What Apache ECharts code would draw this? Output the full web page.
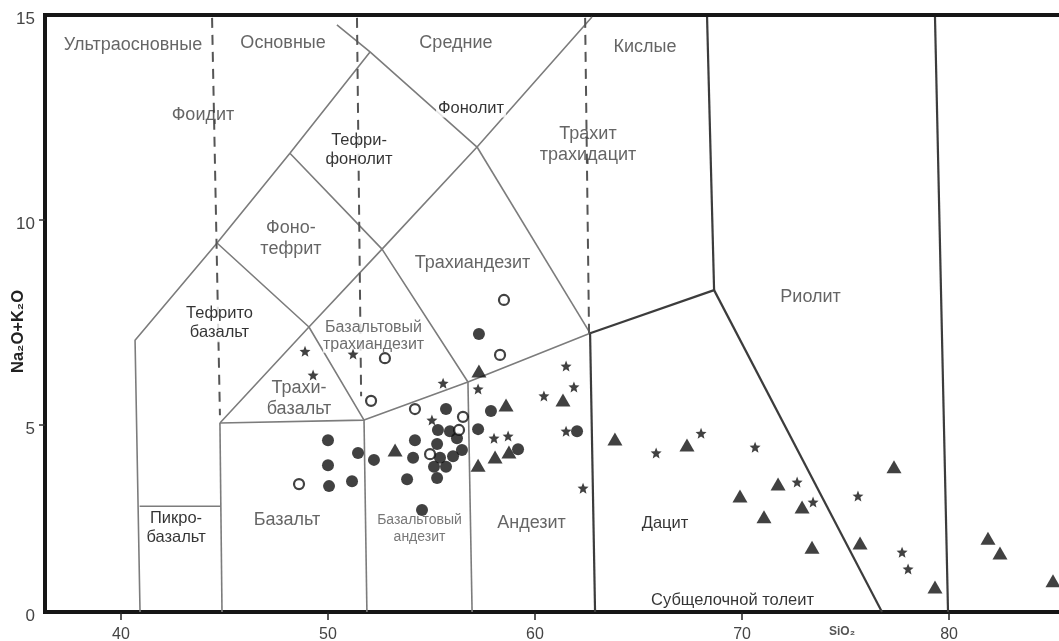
<!DOCTYPE html>
<html>
<head>
<meta charset="utf-8">
<script src="https://cdn.jsdelivr.net/npm/echarts@6/dist/echarts.min.js"></script>
<style>html,body{margin:0;padding:0;background:#fff}#c{width:1059px;height:641px}</style>
</head>
<body>
<div id="c"></div>
<script>
// ---------- data (SiO2, Na2O+K2O) ----------
const filledCircles = [
  [50.00,4.63],[50.00,4.02],[50.05,3.51],[51.16,3.63],[51.45,4.32],[52.22,4.15],
  [54.20,4.63],[54.11,4.20],[53.82,3.68],[54.54,2.93],[55.70,5.39],[55.31,4.88],
  [55.89,4.85],[56.23,4.68],[55.27,4.54],[56.47,4.39],[56.04,4.24],[55.41,4.20],
  [55.12,3.98],[55.70,3.98],[55.27,3.71],[57.29,7.22],[57.87,5.34],[57.25,4.90],
  [59.18,4.41],[62.03,4.85]
];
const openCircles = [
  [48.60,3.56],[52.75,6.63],[52.08,5.59],[54.20,5.39],[56.52,5.20],[56.33,4.88],
  [54.93,4.29],[58.50,8.05],[58.31,6.71]
];
const stars = [
  [48.89,6.80],[49.28,6.22],[51.21,6.73],[55.56,6.02],[55.02,5.12],[57.25,5.88],
  [61.50,6.44],[61.88,5.93],[60.43,5.71],[58.02,4.68],[58.70,4.73],[61.50,4.85],
  [62.32,3.46],[65.85,4.32],[68.02,4.80],[70.63,4.46],[72.66,3.61],[73.43,3.12],
  [75.60,3.27],[77.73,1.90],[78.02,1.49]
];
const triangles = [
  [53.24,4.39],[57.29,6.32],[58.60,5.49],[61.35,5.61],[57.25,4.02],[58.07,4.22],
  [58.74,4.34],[63.86,4.66],[67.34,4.51],[69.90,3.27],[71.06,2.76],[71.74,3.56],
  [72.90,3.00],[73.38,2.02],[75.70,2.12],[77.34,3.98],[79.32,1.05],[81.88,2.24],
  [82.46,1.88],[85.02,1.20]
];

// axis extent and ticks
const xRange = [36.33, 85.6];
const yRange = [0.44, 15];
const xTickValues = [40, 50, 60, 70, 80];
const xTickLabels = ['40', '50', '60', '70', '80'];
const yTickValues = [0.44, 5, 10, 15];
const yTickLabels = ['0', '5', '10', '15'];

// field boundaries (TAS diagram), polylines in data coordinates
const thinBoundaries = [
  [[40.92,0.44],[40.68,7.07],[44.64,9.44],[48.16,11.63],[52.03,14.10]],
  [[50.43,14.76],[52.03,14.10],[57.20,11.78],[62.75,14.95]],
  [[44.64,9.44],[49.08,7.39],[51.74,5.12]],
  [[44.78,5.05],[49.08,7.39],[52.61,9.29],[57.20,11.78]],
  [[48.16,11.63],[52.61,9.29],[56.76,6.05]],
  [[57.20,11.78],[62.66,7.24]],
  [[44.78,5.05],[51.74,5.12],[56.76,6.05],[62.66,7.24]],
  [[44.78,5.05],[44.88,0.44]],
  [[51.74,5.12],[51.88,0.44]],
  [[56.76,6.05],[56.96,0.44]],
  [[40.90,3.02],[44.83,3.02]]
];
const darkBoundaries = [
  [[62.66,7.24],[68.65,8.29]],
  [[62.66,7.24],[62.90,0.44]],
  [[68.65,8.29],[68.31,14.95]],
  [[68.65,8.29],[76.76,0.44]],
  [[79.32,14.95],[79.95,0.44]]
];
const dashedBoundaries = [
  [[44.40,14.93],[44.78,5.24]],
  [[51.40,14.93],[51.60,5.70]],
  [[62.42,14.93],[62.61,7.24]]
];

// field names and group names with their anchor points
const grayLabels = [
  ['Ультраосновные', 40.58, 14.27],
  ['Основные', 47.83, 14.32],
  ['Средние', 56.18, 14.32],
  ['Кислые', 65.31, 14.22],
  ['Фоидит', 43.96, 12.56],
  ['Трахит\nтрахидацит', 62.56, 11.83],
  ['Фоно-\nтефрит', 48.21, 9.56],
  ['Трахиандезит', 56.98, 8.95],
  ['Риолит', 73.31, 8.12],
  ['Трахи-\nбазальт', 48.60, 5.65],
  ['Базальт', 48.02, 2.68],
  ['Андезит', 59.83, 2.61]
];
const grayMidLabels = [
  ['Базальтовый\nтрахиандезит', 52.20, 7.18]
];
const graySmallLabels = [
  ['Базальтовый\nандезит', 54.42, 2.48]
];
const blackLabels = [
  ['Тефри-\nфонолит', 51.50, 11.71],
  ['Фонолит', 56.91, 12.73],
  ['Тефрито\nбазальт', 44.76, 7.48],
  ['Пикро-\nбазальт', 42.66, 2.50],
  ['Дацит', 66.28, 2.59],
  ['Субщелочной толеит', 69.54, 0.73]
];

// ---------- chart ----------
const FONT = '"Liberation Sans", Arial, sans-serif';
const STAR = 'path://M50,0 L62.9,32.2 L97.6,34.5 L70.9,56.8 L79.4,90.5 L50,72 L20.6,90.5 L29.1,56.8 L2.4,34.5 L37.1,32.2 Z';

function lineSeries(pts, color, width, type) {
  return {
    type: 'line', data: pts, symbol: 'none', silent: true, z: 2,
    lineStyle: { color: color, width: width, type: type || 'solid' },
    animation: false
  };
}
function labelSeries(list, style) {
  return {
    type: 'scatter', symbolSize: 0, silent: true, z: 3, clip: false,
    data: list.map(d => ({ name: d[0], value: [d[1], d[2]] })),
    label: Object.assign({
      show: true, position: 'inside', formatter: p => p.name,
      fontFamily: FONT, align: 'center', verticalAlign: 'middle'
    }, style),
    animation: false
  };
}

const series = [];
thinBoundaries.forEach(p => series.push(lineSeries(p, '#7c7c7c', 1.6)));
darkBoundaries.forEach(p => series.push(lineSeries(p, '#3c3c3c', 2.2)));
dashedBoundaries.forEach(p => series.push(lineSeries(p, '#555', 2, [10, 7])));
series.push(labelSeries(grayLabels, { color: '#3e3e3e', fontSize: 18, lineHeight: 21 }));
series.push(labelSeries(grayMidLabels, { color: '#4a4a4a', fontSize: 16, lineHeight: 17, backgroundColor: '#fff' }));
series.push(labelSeries(graySmallLabels, { color: '#555', fontSize: 14, lineHeight: 17 }));
series.push(labelSeries(blackLabels, { color: '#000', fontSize: 16.5, lineHeight: 19, backgroundColor: '#fff', padding: [0, 2] }));
series.push({ type: 'scatter', data: filledCircles, symbol: 'circle', symbolSize: 12, z: 5,
  itemStyle: { color: '#111' }, animation: false });
series.push({ type: 'scatter', data: openCircles, symbol: 'circle', symbolSize: 10, z: 5,
  itemStyle: { color: '#fff', borderColor: '#111', borderWidth: 2.2 }, animation: false });
series.push({ type: 'scatter', data: stars, symbol: STAR, symbolSize: 11, z: 5,
  itemStyle: { color: '#111' }, animation: false });
series.push({ type: 'scatter', data: triangles, symbol: 'triangle', symbolSize: [15, 13], z: 5,
  itemStyle: { color: '#111' }, animation: false });

const chart = echarts.init(document.getElementById('c'), null, { renderer: 'canvas' });
chart.setOption({
  animation: false,
  backgroundColor: '#fff',
  grid: { left: 45, right: -6, top: 15, bottom: 29, show: true, borderColor: '#161616', borderWidth: 4,
          containLabel: false, outerBoundsMode: 'none' },
  xAxis: {
    type: 'value', min: xRange[0], max: xRange[1],
    name: 'SiO₂', nameLocation: 'middle', nameGap: 14, nameMoveOverlap: false,
    nameTextStyle: { fontFamily: FONT, fontSize: 12, fontWeight: 'bold', color: '#555', padding: [0, 0, 0, 574] },
    axisLine: { show: true, lineStyle: { color: '#161616', width: 4 } },
    axisTick: { show: true, length: 8, lineStyle: { color: '#222', width: 1.5 }, customValues: xTickValues },
    axisLabel: { customValues: xTickValues, margin: 15, fontFamily: FONT, fontSize: 16, color: '#444',
      formatter: v => xTickLabels[xTickValues.indexOf(v)] },
    splitLine: { show: false }
  },
  yAxis: {
    type: 'value', min: yRange[0], max: yRange[1],
    name: 'Na₂O+K₂O', nameLocation: 'middle', nameGap: 18, nameRotate: 90, nameMoveOverlap: false,
    nameTextStyle: { fontFamily: FONT, fontSize: 16.5, fontWeight: 'bold', color: '#222', padding: [0, 36, 0, 0] },
    axisLine: { show: true, lineStyle: { color: '#161616', width: 4 } },
    axisTick: { show: true, length: 6, lineStyle: { color: '#333', width: 1.5 }, customValues: [5, 10] },
    axisLabel: { customValues: yTickValues, margin: 10, fontFamily: FONT, fontSize: 17, color: '#444',
      verticalAlign: 'top', lineHeight: 9,
      formatter: v => yTickLabels[yTickValues.indexOf(v)] },
    splitLine: { show: false }
  },
  series: series
});
</script>
</body>
</html>
